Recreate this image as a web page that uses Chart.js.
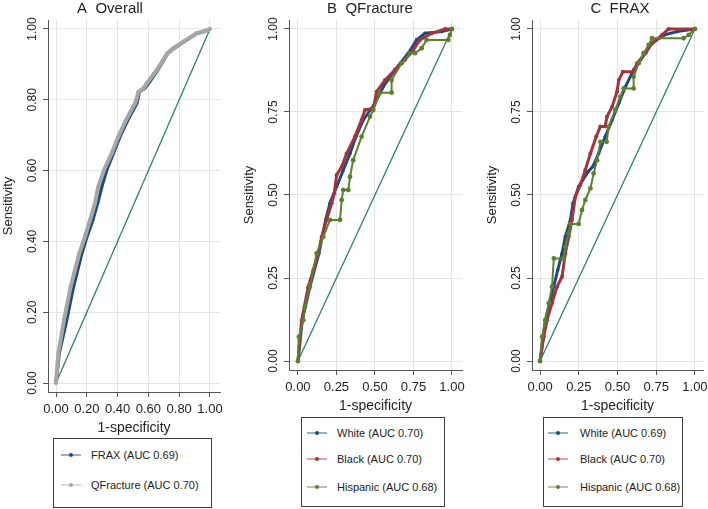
<!DOCTYPE html>
<html>
<head>
<meta charset="utf-8">
<script src="https://cdn.jsdelivr.net/npm/chart.js@4.4.0/dist/chart.umd.min.js"></script>
<style>
  body { margin: 0; background: #fff; font-family: "Liberation Sans", Arial, sans-serif; }
  #wrap { position: relative; width: 708px; height: 509px; overflow: hidden; }
  canvas { position: absolute; top: 0; }
  .legend { position: absolute; border: 1px solid #404040; box-sizing: border-box; font-size: 11px; color: #222; }
  .legend .item { position: absolute; left: 0; height: 14px; line-height: 14px; white-space: nowrap; }
  .legend svg { position: absolute; top: 0; }
</style>
</head>
<body>
<div id="wrap">
  <canvas id="chartA" width="232" height="437" style="left:0px"></canvas>
  <canvas id="chartB" width="232" height="415" style="left:236px"></canvas>
  <canvas id="chartC" width="238" height="415" style="left:470px"></canvas>
  <div class="legend" id="legA" style="left:53px;top:438px;width:159px;height:70px"></div>
  <div class="legend" id="legB" style="left:301px;top:417px;width:144px;height:90px"></div>
  <div class="legend" id="legC" style="left:543px;top:417px;width:140px;height:90px"></div>
</div>
<script>
// tick values
const ticksA = [0, 0.2, 0.4, 0.6, 0.8, 1];
const ticksBC = [0, 0.25, 0.5, 0.75, 1];
const diagX = [0, 1];
const diagY = [0, 1];

// A Overall
const aFraxX = [0, 0.02, 0.069, 0.113, 0.167, 0.2, 0.238, 0.27, 0.297, 0.329, 0.372, 0.415, 0.466, 0.524, 0.532, 0.54, 0.575, 0.6, 0.66, 0.725, 0.765, 0.83, 0.915, 0.975, 1];
const aFraxY = [0, 0.084, 0.178, 0.272, 0.366, 0.413, 0.46, 0.508, 0.555, 0.602, 0.649, 0.696, 0.743, 0.79, 0.805, 0.823, 0.832, 0.846, 0.884, 0.931, 0.945, 0.964, 0.988, 0.995, 1];
const aQfrX = [0, 0.015, 0.052, 0.095, 0.151, 0.188, 0.221, 0.253, 0.275, 0.312, 0.362, 0.405, 0.455, 0.513, 0.525, 0.535, 0.567, 0.589, 0.654, 0.723, 0.76, 0.827, 0.913, 0.978, 1];
const aQfrY = [0, 0.084, 0.178, 0.272, 0.366, 0.413, 0.46, 0.508, 0.555, 0.602, 0.649, 0.696, 0.743, 0.79, 0.805, 0.823, 0.832, 0.846, 0.884, 0.931, 0.945, 0.964, 0.988, 0.995, 1];

// B QFracture
const bWhiteX = [0, 0.028, 0.078, 0.136, 0.18, 0.208, 0.251, 0.294, 0.338, 0.377, 0.424, 0.5, 0.554, 0.63, 0.716, 0.77, 0.825, 0.933, 1];
const bWhiteY = [0, 0.123, 0.224, 0.324, 0.425, 0.475, 0.525, 0.575, 0.625, 0.676, 0.726, 0.776, 0.826, 0.877, 0.927, 0.967, 0.987, 0.992, 1];
const bBlackX = [0, 0.024, 0.067, 0.1, 0.132, 0.154, 0.186, 0.219, 0.236, 0.251, 0.284, 0.316, 0.37, 0.413, 0.435, 0.489, 0.511, 0.565, 0.63, 0.695, 0.749, 0.792, 0.868, 0.955, 1];
const bBlackY = [0, 0.123, 0.224, 0.274, 0.324, 0.374, 0.425, 0.475, 0.505, 0.56, 0.585, 0.625, 0.676, 0.726, 0.756, 0.761, 0.811, 0.846, 0.877, 0.907, 0.937, 0.967, 0.987, 1, 1];
const bHispX = [0, 0.006, 0.035, 0.045, 0.078, 0.121, 0.165, 0.208, 0.273, 0.284, 0.294, 0.327, 0.338, 0.359, 0.413, 0.468, 0.489, 0.532, 0.608, 0.608, 0.673, 0.727, 0.76, 0.803, 0.835, 0.976, 0.987, 1];
const bHispY = [0, 0.073, 0.123, 0.164, 0.224, 0.324, 0.374, 0.425, 0.425, 0.485, 0.515, 0.515, 0.555, 0.605, 0.676, 0.736, 0.756, 0.808, 0.808, 0.846, 0.897, 0.927, 0.927, 0.942, 0.967, 0.967, 0.982, 1];

// C FRAX
const cWhiteX = [0, 0.034, 0.088, 0.114, 0.142, 0.163, 0.196, 0.213, 0.249, 0.31, 0.34, 0.378, 0.421, 0.465, 0.508, 0.551, 0.604, 0.68, 0.723, 0.8, 0.884, 1];
const cWhiteY = [0, 0.123, 0.224, 0.274, 0.324, 0.374, 0.425, 0.475, 0.525, 0.57, 0.585, 0.625, 0.676, 0.726, 0.776, 0.826, 0.877, 0.927, 0.957, 0.982, 0.992, 1];
const cBlackX = [0, 0.024, 0.045, 0.077, 0.11, 0.142, 0.163, 0.185, 0.206, 0.228, 0.26, 0.292, 0.325, 0.363, 0.389, 0.42, 0.432, 0.465, 0.497, 0.508, 0.535, 0.604, 0.626, 0.68, 0.723, 0.787, 0.83, 1];
const cBlackY = [0, 0.073, 0.123, 0.174, 0.224, 0.254, 0.324, 0.374, 0.425, 0.495, 0.53, 0.575, 0.625, 0.676, 0.706, 0.706, 0.736, 0.766, 0.811, 0.846, 0.871, 0.871, 0.897, 0.927, 0.957, 0.982, 1, 1];
const cHispX = [0, 0.013, 0.034, 0.056, 0.077, 0.089, 0.153, 0.163, 0.185, 0.196, 0.249, 0.271, 0.292, 0.325, 0.346, 0.368, 0.39, 0.43, 0.443, 0.486, 0.518, 0.54, 0.604, 0.604, 0.637, 0.669, 0.701, 0.723, 0.927, 0.96, 1];
const cHispY = [0, 0.073, 0.123, 0.174, 0.224, 0.309, 0.309, 0.344, 0.385, 0.413, 0.413, 0.455, 0.485, 0.52, 0.565, 0.605, 0.66, 0.66, 0.706, 0.756, 0.796, 0.821, 0.821, 0.856, 0.897, 0.927, 0.952, 0.972, 0.972, 0.982, 1];

const labelsA = ["FRAX (AUC 0.69)", "QFracture (AUC 0.70)"];
const labelsB = ["White (AUC 0.70)", "Black (AUC 0.70)", "Hispanic (AUC 0.68)"];
const labelsC = ["White (AUC 0.69)", "Black (AUC 0.70)", "Hispanic (AUC 0.68)"];

const navy = "#1f4a78";
const gray = "#a6a6a6";
const maroon = "#a3333f";
const green = "#5b8030";
const teal = "#2d8070";

Chart.defaults.font.family = "'Liberation Sans', Arial, sans-serif";
Chart.defaults.color = "#222";

function pts(xs, ys) {
  return xs.map((x, i) => ({ x: x, y: ys[i] }));
}

function curve(label, xs, ys, color, width, radius, order) {
  return {
    label: label,
    data: pts(xs, ys),
    showLine: true,
    borderColor: color,
    backgroundColor: color,
    borderWidth: width,
    pointRadius: radius,
    pointBorderWidth: 0,
    order: order,
  };
}

function diag() {
  return {
    label: "ref",
    data: pts(diagX, diagY),
    showLine: true,
    borderColor: teal,
    borderWidth: 1.3,
    pointRadius: 0,
    order: 10,
  };
}

// rotated y tick labels, y title and panel title
const panelText = {
  id: "panelText",
  afterDraw(chart, args, o) {
    const ctx = chart.ctx;
    const a = chart.chartArea;
    const ys = chart.scales.y;
    ctx.save();
    ctx.fillStyle = "#222";
    ctx.textAlign = "center";
    ctx.textBaseline = "middle";
    ctx.font = "15px 'Liberation Sans'";
    ctx.fillText(o.title, o.titleX, 9);
    ctx.font = "13px 'Liberation Sans'";
    ctx.save();
    ctx.translate(a.left - 40, ys.getPixelForValue(0.5));
    ctx.rotate(-Math.PI / 2);
    ctx.fillText("Sensitivity", 0, 0);
    ctx.restore();
    ctx.font = "12px 'Liberation Sans'";
    ys.ticks.forEach((t) => {
      ctx.save();
      ctx.translate(a.left - 15, ys.getPixelForValue(t.value));
      ctx.rotate(-Math.PI / 2);
      ctx.fillText(t.value.toFixed(2), 0, 0);
      ctx.restore();
    });
    ctx.restore();
  },
};

function makeChart(id, datasets, ticks, p) {
  const ctx = document.getElementById(id).getContext("2d");
  return new Chart(ctx, {
    type: "scatter",
    data: { datasets: datasets },
    plugins: [panelText],
    options: {
      responsive: false,
      animation: false,
      layout: { padding: { top: 20, left: 0, right: p.padRight, bottom: 0 } },
      plugins: {
        legend: { display: false },
        tooltip: { enabled: false },
        panelText: { title: p.title, titleX: p.titleX },
      },
      scales: {
        x: {
          type: "linear",
          min: p.xMin,
          max: p.xMax,
          afterBuildTicks: (s) => { s.ticks = ticks.map((v) => ({ value: v })); },
          afterFit: (s) => { s.height = 45; s.paddingLeft = 0; s.paddingRight = 0; },
          ticks: { autoSkip: false, maxRotation: 0, padding: 5, font: { size: 13 }, color: "#222", callback: (v) => v.toFixed(2) },
          grid: { color: "#e3e3e3", tickColor: "#555", tickLength: 5, lineWidth: 1 },
          border: { color: "#555", width: 1 },
          title: { display: true, text: "1-specificity", font: { size: 14 }, color: "#222", padding: { top: 0, bottom: 0 } },
        },
        y: {
          type: "linear",
          min: p.yMin,
          max: p.yMax,
          afterBuildTicks: (s) => { s.ticks = ticks.map((v) => ({ value: v })); },
          afterFit: (s) => { s.width = p.yWidth; },
          ticks: { display: false },
          grid: { color: "#e3e3e3", tickColor: "#555", tickLength: 5, lineWidth: 1 },
          border: { color: "#555", width: 1 },
        },
      },
    },
  });
}

makeChart("chartA", [
  curve(labelsA[0], aFraxX, aFraxY, navy, 3.5, 1.5, 2),
  curve(labelsA[1], aQfrX, aQfrY, gray, 4, 2, 1),
  diag(),
], ticksA, { padRight: 12, yWidth: 48, xMin: -0.052, xMax: 1.065, yMin: -0.0254, yMax: 1.0254, title: "A  Overall", titleX: 110 });

makeChart("chartB", [
  curve(labelsB[0], bWhiteX, bWhiteY, navy, 3, 1.8, 3),
  curve(labelsB[1], bBlackX, bBlackY, maroon, 3, 2, 2),
  curve(labelsB[2], bHispX, bHispY, green, 2, 2.4, 1),
  diag(),
], ticksBC, { padRight: 6, yWidth: 53, xMin: -0.058, xMax: 1.065, yMin: -0.027, yMax: 1.027, title: "B  QFracture", titleX: 134 });

makeChart("chartC", [
  curve(labelsC[0], cWhiteX, cWhiteY, navy, 3, 1.8, 3),
  curve(labelsC[1], cBlackX, cBlackY, maroon, 3, 2, 2),
  curve(labelsC[2], cHispX, cHispY, green, 2, 2.4, 1),
  diag(),
], ticksBC, { padRight: 5, yWidth: 62, xMin: -0.052, xMax: 1.052, yMin: -0.027, yMax: 1.027, title: "C  FRAX", titleX: 150 });

// legends
function legend(id, labels, colors, rows, lineX, textX) {
  const box = document.getElementById(id);
  labels.forEach((lab, i) => {
    const item = document.createElement("div");
    item.className = "item";
    item.style.top = (rows[i] - 7) + "px";
    item.style.width = "100%";
    item.innerHTML =
      `<svg width="22" height="14" style="left:${lineX}px">` +
      `<line x1="1" y1="7" x2="21" y2="7" stroke="${colors[i]}" stroke-opacity="0.6" stroke-width="1.5"/>` +
      `<circle cx="11" cy="7" r="2" fill="${colors[i]}"/></svg>` +
      `<span style="position:absolute;left:${textX}px">${lab}</span>`;
    box.appendChild(item);
  });
}
legend("legA", labelsA, [navy, gray], [16, 46], 6, 37);
legend("legB", labelsB, [navy, maroon, green], [15, 41, 69], 4, 35);
legend("legC", labelsC, [navy, maroon, green], [15, 41, 69], 3, 36);
</script>
</body>
</html>
